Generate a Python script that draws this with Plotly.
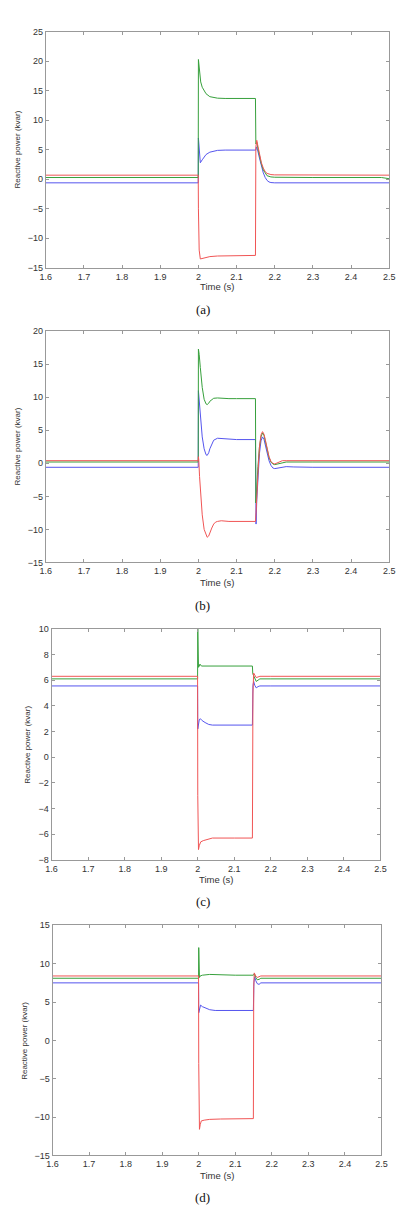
import plotly.graph_objects as go

W, H = 402, 1212

# ---------------- data ----------------
# Panel (a)
a_blue_t = [1.6, 1.9995, 2.0, 2.001, 2.003, 2.005, 2.01, 2.02, 2.03, 2.04, 2.05, 2.07, 2.1, 2.1505, 2.152, 2.155, 2.16, 2.165, 2.17, 2.175, 2.18, 2.185, 2.19, 2.2, 2.25, 2.5]
a_blue_q = [-0.6, -0.6, 7.0, 6.0, 4.0, 2.8, 3.3, 4.2, 4.6, 4.8, 4.9, 4.95, 4.95, 4.95, 5.5, 5.0, 3.6, 2.2, 1.1, 0.3, -0.2, -0.45, -0.55, -0.6, -0.6, -0.6]
a_green_t = [1.6, 1.9995, 2.0, 2.001, 2.003, 2.006, 2.01, 2.015, 2.02, 2.03, 2.04, 2.05, 2.07, 2.1, 2.1495, 2.1505, 2.153, 2.156, 2.16, 2.165, 2.17, 2.175, 2.18, 2.19, 2.2, 2.3, 2.48, 2.5]
a_green_q = [0.3, 0.3, 20.3, 19.5, 18.0, 16.5, 15.6, 14.9, 14.5, 14.0, 13.85, 13.75, 13.7, 13.7, 13.7, 6.0, 6.3, 5.2, 4.0, 2.6, 1.6, 1.0, 0.6, 0.4, 0.35, 0.3, 0.3, 0.1]
a_red_t = [1.6, 1.9995, 2.0, 2.002, 2.005, 2.01, 2.02, 2.03, 2.05, 2.08, 2.1, 2.1495, 2.1505, 2.153, 2.156, 2.16, 2.165, 2.17, 2.175, 2.18, 2.19, 2.2, 2.5]
a_red_q = [0.7, 0.7, -5.0, -12.0, -13.5, -13.4, -13.2, -13.1, -13.0, -12.95, -12.9, -12.9, 5.5, 6.6, 5.6, 4.2, 2.8, 1.9, 1.3, 1.0, 0.8, 0.75, 0.7]

# Panel (b)
b_blue_t = [1.6, 1.9995, 2.0, 2.002, 2.005, 2.01, 2.015, 2.02, 2.023, 2.027, 2.03, 2.035, 2.04, 2.05, 2.06, 2.07, 2.08, 2.1, 2.1495, 2.151, 2.153, 2.156, 2.16, 2.164, 2.168, 2.172, 2.176, 2.18, 2.185, 2.19, 2.195, 2.2, 2.205, 2.21, 2.22, 2.23, 2.25, 2.3, 2.5]
b_blue_q = [-0.6, -0.6, 11.0, 9.5, 7.0, 4.0, 2.2, 1.3, 1.2, 1.6, 2.2, 3.0, 3.5, 3.8, 3.75, 3.65, 3.6, 3.6, 3.6, -9.2, -5.5, -2.0, 1.5, 3.4, 4.0, 3.6, 2.6, 1.5, 0.4, -0.3, -0.7, -0.8, -0.75, -0.6, -0.5, -0.5, -0.55, -0.6, -0.6]
b_green_t = [1.6, 1.9995, 2.0, 2.002, 2.005, 2.01, 2.015, 2.02, 2.023, 2.027, 2.03, 2.035, 2.04, 2.05, 2.06, 2.08, 2.1, 2.1495, 2.1505, 2.153, 2.156, 2.16, 2.164, 2.168, 2.172, 2.176, 2.18, 2.185, 2.19, 2.195, 2.2, 2.21, 2.22, 2.23, 2.3, 2.5]
b_green_q = [0.2, 0.2, 17.3, 16.5, 14.5, 11.5, 9.7, 9.0, 8.9, 9.1, 9.4, 9.7, 9.85, 9.9, 9.85, 9.8, 9.8, 9.8, -6.0, -3.0, -0.5, 2.5, 4.0, 4.6, 4.2, 3.2, 2.0, 0.9, 0.2, -0.1, -0.2, -0.1, 0.1, 0.2, 0.2, 0.2]
b_red_t = [1.6, 1.9995, 2.0, 2.001, 2.003, 2.006, 2.01, 2.015, 2.02, 2.023, 2.027, 2.03, 2.035, 2.04, 2.045, 2.05, 2.06, 2.08, 2.1, 2.1495, 2.151, 2.153, 2.156, 2.16, 2.164, 2.168, 2.172, 2.176, 2.18, 2.185, 2.19, 2.195, 2.2, 2.21, 2.22, 2.23, 2.3, 2.5]
b_red_q = [0.4, 0.4, 1.0, 0.5, -2.0, -5.0, -7.8, -10.0, -11.0, -11.2, -11.0, -10.5, -9.8, -9.2, -8.9, -8.8, -8.7, -8.8, -8.8, -8.8, -7.5, -4.5, -1.5, 2.5, 4.3, 4.8, 4.4, 3.4, 2.2, 1.0, 0.3, 0.0, -0.1, 0.2, 0.4, 0.4, 0.4, 0.4]

# Panel (c)
c_blue_t = [1.6, 1.9995, 2.0, 2.002, 2.004, 2.007, 2.012, 2.02, 2.03, 2.04, 2.06, 2.1, 2.1495, 2.151, 2.153, 2.156, 2.16, 2.165, 2.17, 2.2, 2.5]
c_blue_q = [5.55, 5.55, 2.2, 2.5, 2.9, 3.0, 2.85, 2.7, 2.55, 2.5, 2.5, 2.5, 2.5, 5.6, 5.9, 5.6, 5.4, 5.5, 5.55, 5.55, 5.55]
c_green_t = [1.6, 1.9995, 2.0, 2.001, 2.002, 2.004, 2.006, 2.01, 2.02, 2.05, 2.1, 2.1495, 2.1505, 2.153, 2.156, 2.16, 2.165, 2.17, 2.2, 2.5]
c_green_q = [6.1, 6.1, 10.0, 8.0, 7.0, 7.1, 7.25, 7.1, 7.1, 7.15, 7.1, 7.1, 6.5, 6.3, 6.05, 5.9, 6.0, 6.1, 6.1, 6.1]
c_red_t = [1.6, 1.9995, 2.0, 2.002, 2.004, 2.008, 2.015, 2.025, 2.04, 2.1, 2.1495, 2.151, 2.153, 2.156, 2.16, 2.165, 2.17, 2.2, 2.5]
c_red_q = [6.3, 6.3, -3.0, -7.2, -6.9, -6.6, -6.5, -6.4, -6.3, -6.3, -6.3, 5.0, 6.55, 6.4, 6.2, 6.25, 6.3, 6.3, 6.3]

# Panel (d)
d_blue_t = [1.6, 1.9995, 2.0, 2.002, 2.005, 2.01, 2.02, 2.03, 2.045, 2.06, 2.1, 2.1495, 2.151, 2.153, 2.156, 2.16, 2.165, 2.17, 2.5]
d_blue_q = [7.5, 7.5, 3.6, 4.2, 4.6, 4.4, 4.15, 4.0, 3.9, 3.9, 3.9, 3.9, 7.5, 8.3, 7.8, 7.4, 7.3, 7.5, 7.5]
d_green_t = [1.6, 1.9995, 2.0, 2.001, 2.002, 2.004, 2.01, 2.03, 2.05, 2.1, 2.1495, 2.152, 2.156, 2.16, 2.165, 2.17, 2.5]
d_green_q = [8.1, 8.1, 12.1, 9.5, 8.2, 8.4, 8.5, 8.6, 8.55, 8.5, 8.5, 8.7, 8.2, 7.9, 7.95, 8.1, 8.1]
d_red_t = [1.6, 1.9995, 2.0, 2.002, 2.004, 2.007, 2.015, 2.03, 2.06, 2.1, 2.1495, 2.1505, 2.152, 2.156, 2.16, 2.165, 2.17, 2.5]
d_red_q = [8.4, 8.4, -3.0, -11.6, -11.0, -10.5, -10.4, -10.3, -10.25, -10.2, -10.2, 7.0, 8.8, 8.4, 8.2, 8.3, 8.4, 8.4]

captions = ["(a)", "(b)", "(c)", "(d)"]
y_ranges = [[-15, 25], [-15, 20], [-8, 10], [-15, 15]]
y_dticks = [5, 5, 2, 5]
x_range = [1.6, 2.5]
x_title = "Time (s)"
y_title = "Reactive power (kvar)"

panels = [
    [(a_blue_t, a_blue_q), (a_green_t, a_green_q), (a_red_t, a_red_q)],
    [(b_blue_t, b_blue_q), (b_green_t, b_green_q), (b_red_t, b_red_q)],
    [(c_blue_t, c_blue_q), (c_green_t, c_green_q), (c_red_t, c_red_q)],
    [(d_blue_t, d_blue_q), (d_green_t, d_green_q), (d_red_t, d_red_q)],
]

# ---------------- layout (pixel geometry) ----------------
colors = ["rgb(85,85,238)", "rgb(55,160,60)", "rgb(240,85,85)"]
# plot boxes: left, right, top, bottom in pixels
boxes = [(41, 395, 27, 265), (41, 395, 329, 562), (47, 386, 629, 862), (48, 387, 928, 1160)]
ytitle_x = [12, 12, 22, 19]
xtitle_y = [284, 582, 882, 1180]
caption_y = [307, 605, 904, 1202]

def px(x):
    return x / W

def py(y):
    return 1 - y / H

fig = go.Figure()
annotations = []
layout = dict(
    width=W, height=H, margin=dict(l=0, r=0, t=0, b=0),
    paper_bgcolor="white", plot_bgcolor="white", showlegend=False,
    font=dict(family="Liberation Sans, Arial, sans-serif", size=9, color="#333"),
)

for i, series in enumerate(panels):
    n = "" if i == 0 else str(i + 1)
    for (t, q), c in zip(series, colors):
        fig.add_trace(go.Scatter(x=t, y=q, mode="lines", line=dict(color=c, width=1),
                                 xaxis="x" + n, yaxis="y" + n, hoverinfo="skip"))
    l, r, top, bot = boxes[i]
    axis_common = dict(showline=True, linecolor="#999999", linewidth=1, mirror="ticks",
                       ticks="inside", ticklen=3, tickcolor="#999999", showgrid=False,
                       zeroline=False, tickfont=dict(size=9, color="#333"))
    layout["xaxis" + n] = dict(domain=[px(l), px(r)], range=x_range, dtick=0.1, tick0=1.6,
                               anchor="y" + n, **axis_common)
    layout["yaxis" + n] = dict(domain=[py(bot), py(top)], range=y_ranges[i], dtick=y_dticks[i],
                               anchor="x" + n, **axis_common)
    cx = (l + r) / 2
    annotations.append(dict(text=x_title, x=px(cx), y=py(xtitle_y[i]), xref="paper", yref="paper",
                            showarrow=False, xanchor="center", yanchor="middle",
                            font=dict(size=9.5, color="#333")))
    annotations.append(dict(text=y_title, x=px(ytitle_x[i]), y=py((top + bot) / 2), xref="paper",
                            yref="paper", showarrow=False, textangle=-90, xanchor="center",
                            yanchor="middle", font=dict(size=8, color="#333")))
    annotations.append(dict(text=captions[i], x=px(203), y=py(caption_y[i]), xref="paper",
                            yref="paper", showarrow=False, xanchor="center", yanchor="middle",
                            font=dict(family="Liberation Serif, Times New Roman, serif", size=13,
                                      color="#111")))

layout["annotations"] = annotations
fig.update_layout(**layout)
fig.write_html("out.html")
